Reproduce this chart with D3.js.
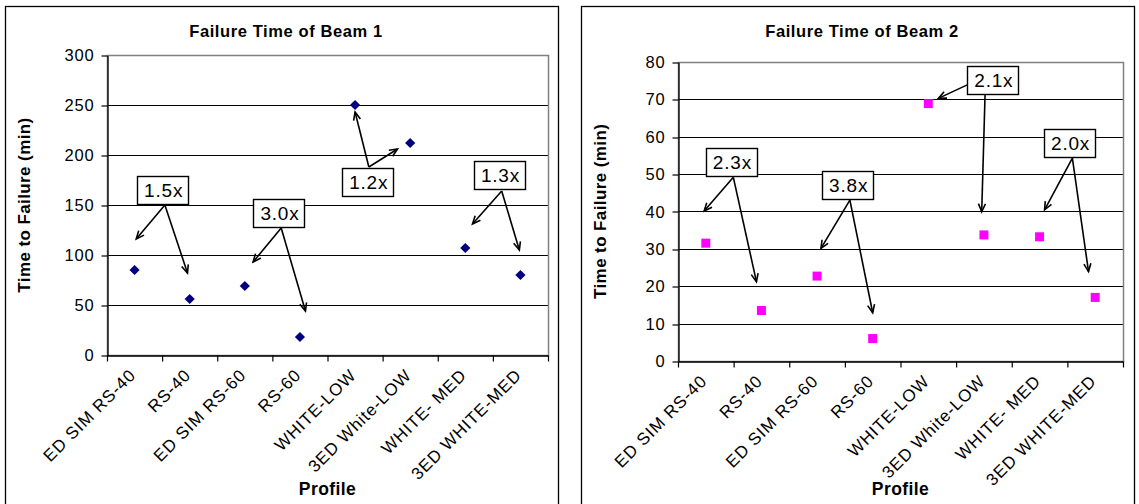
<!DOCTYPE html>
<html>
<head>
<meta charset="utf-8">
<script src="https://cdn.jsdelivr.net/npm/d3@7"></script>
<style>
  html, body { margin: 0; padding: 0; background: #fff; }
  svg { display: block; font-family: Arial, "Liberation Sans", sans-serif; }
</style>
</head>
<body>
<svg id="chart" width="1139" height="504"></svg>
<script>
// Profiles tested (same order in both beams)
const categories = ["ED SIM RS-40", "RS-40", "ED SIM RS-60", "RS-60",
                    "WHITE-LOW", "3ED White-LOW", "WHITE- MED", "3ED WHITE-MED"];

// Time to failure, minutes
const beam1Minutes = [85, 56, 69, 18, 250, 212, 107, 80];
const beam2Minutes = [31.5, 13.5, 22.7, 6, 68.8, 33.7, 33.2, 17];

// Value-axis ticks
const beam1Ticks = [0, 50, 100, 150, 200, 250, 300];
const beam2Ticks = [0, 10, 20, 30, 40, 50, 60, 70, 80];

// Ratio callouts: label, box centre and arrows, in [category position, minutes]
const beam1Labels = ["1.5x", "3.0x", "1.2x", "1.3x"];
const beam1Boxes = [[1.01, 165], [3.12, 142], [4.73, 173], [7.12, 180]];
const beam1Arrows = [
  [[[1.05, 150], [0.53, 116]], [[1.05, 150], [1.46, 82]]],
  [[[3.16, 127], [2.65, 93]], [[3.16, 127], [3.6, 44]]],
  [[[4.75, 188], [4.5, 243]], [[4.75, 188], [5.27, 206]]],
  [[[7.16, 164], [6.63, 131]], [[7.16, 164], [7.48, 105]]]
];
const beam2Labels = ["2.3x", "3.8x", "2.1x", "2.0x"];
const beam2Boxes = [[0.96, 53.2], [3.05, 47], [5.66, 75.1], [7.04, 58.4]];
const beam2Arrows = [
  [[[0.995, 49.1], [0.47, 40.1]], [[0.995, 49.1], [1.41, 21.2]]],
  [[[3.09, 43], [2.57, 30.1]], [[3.09, 43], [3.5, 12.9]]],
  [[[5.2, 73.8], [4.68, 70.2]], [[5.52, 71.1], [5.46, 39.9]]],
  [[[7.09, 54.2], [6.59, 40.4]], [[7.09, 54.2], [7.38, 23.9]]]
];

const svg = d3.select("#chart");

// open arrowhead used by the callout leaders
svg.append("defs").append("marker")
  .attr("id", "arrowhead")
  .attr("markerUnits", "userSpaceOnUse")
  .attr("viewBox", "-10 -5 12 10")
  .attr("refX", 0).attr("refY", 0)
  .attr("markerWidth", 12).attr("markerHeight", 10)
  .attr("orient", "auto")
  .append("path")
  .attr("d", "M-8,-3.5 L0,0 L-8,3.5")
  .attr("fill", "none")
  .attr("stroke", "#000")
  .attr("stroke-width", 1.6);

function drawPanel(cfg) {
  const g = svg.append("g");

  // chart frame
  g.append("rect")
    .attr("x", cfg.frame[0] + 0.5).attr("y", cfg.frame[1] + 0.5)
    .attr("width", cfg.frame[2] - cfg.frame[0]).attr("height", 520)
    .attr("fill", "#fff").attr("stroke", "#000").attr("stroke-width", 1.3);

  const x = d3.scaleLinear().domain([0, categories.length]).range([cfg.left, cfg.right]);
  const y = d3.scaleLinear().domain([0, d3.max(cfg.ticks)]).range([cfg.bottom, cfg.top]);

  // gridlines
  g.append("g").selectAll("line")
    .data(cfg.ticks.slice(1, -1))
    .join("line")
    .attr("x1", cfg.left).attr("x2", cfg.right)
    .attr("y1", d => Math.round(y(d)) + 0.5).attr("y2", d => Math.round(y(d)) + 0.5)
    .attr("stroke", "#000").attr("stroke-width", 1);

  // plot-area border
  g.append("rect")
    .attr("x", cfg.left + 0.5).attr("y", Math.round(cfg.top) + 0.5)
    .attr("width", cfg.right - cfg.left).attr("height", Math.round(cfg.bottom) - Math.round(cfg.top))
    .attr("fill", "none").attr("stroke", "#808080").attr("stroke-width", 1.5);

  // value axis
  const yAxis = g.append("g")
    .attr("transform", `translate(${cfg.left + 0.5},0.5)`)
    .call(d3.axisLeft(y).tickValues(cfg.ticks).tickSize(6).tickSizeOuter(0).tickPadding(7));
  yAxis.select(".domain").attr("stroke", "#000").attr("stroke-width", 1.3);
  yAxis.selectAll(".tick line").attr("stroke", "#000").attr("stroke-width", 1.2)
    .attr("transform", d => `translate(0,${Math.round(y(d)) - y(d)})`);
  yAxis.selectAll(".tick text")
    .attr("font-size", 16.5).attr("fill", "#000")
    .attr("font-family", "Arial, 'Liberation Sans', sans-serif")
    .attr("letter-spacing", 0.8);

  // category axis: ticks between categories
  const xAxis = g.append("g")
    .attr("transform", `translate(0,${Math.round(cfg.bottom) + 0.5})`)
    .call(d3.axisBottom(x).tickValues(d3.range(categories.length + 1))
      .tickSize(6).tickSizeOuter(0).tickFormat(""));
  xAxis.select(".domain").attr("stroke", "#000").attr("stroke-width", 1.3);
  xAxis.selectAll(".tick line").attr("stroke", "#000").attr("stroke-width", 1.2);

  // category labels, rotated
  g.append("g").selectAll("text")
    .data(categories)
    .join("text")
    .attr("transform", (d, i) => `translate(${x(i + 0.5) - 2},${cfg.bottom + 17}) rotate(-45)`)
    .attr("text-anchor", "end")
    .attr("dy", "0.35em")
    .attr("font-size", 17)
    .attr("letter-spacing", 0.9)
    .text(d => d);

  // titles
  g.append("text")
    .attr("x", cfg.titleX).attr("y", 37)
    .attr("text-anchor", "middle")
    .attr("font-size", 16.5).attr("font-weight", "bold").attr("letter-spacing", 0.6)
    .text(cfg.title);
  g.append("text")
    .attr("x", (cfg.left + cfg.right) / 2).attr("y", 495)
    .attr("text-anchor", "middle")
    .attr("font-size", 17.5).attr("font-weight", "bold").attr("letter-spacing", 0.4)
    .text("Profile");
  g.append("text")
    .attr("transform", `translate(${cfg.yTitleX},${(cfg.top + cfg.bottom) / 2}) rotate(-90)`)
    .attr("text-anchor", "middle")
    .attr("font-size", 17).attr("font-weight", "bold").attr("letter-spacing", 0.4)
    .text("Time to Failure (min)");

  // data markers (diamond = square turned 45 degrees)
  const sym = d3.symbol().type(d3.symbolSquare).size(cfg.symbolSize);
  g.append("g").selectAll("path")
    .data(cfg.values)
    .join("path")
    .attr("transform", (d, i) => `translate(${x(i + 0.5)},${y(d)}) rotate(${cfg.rotate})`)
    .attr("d", sym)
    .attr("fill", cfg.color);

  // callouts: leader arrows then boxed labels
  const ann = g.append("g");
  cfg.arrows.forEach(pair => pair.forEach(([from, to]) => {
    ann.append("line")
      .attr("x1", x(from[0])).attr("y1", y(from[1]))
      .attr("x2", x(to[0])).attr("y2", y(to[1]))
      .attr("stroke", "#000").attr("stroke-width", 1.6)
      .attr("marker-end", "url(#arrowhead)");
  }));
  cfg.labels.forEach((lab, i) => {
    const cx = x(cfg.boxes[i][0]), cy = y(cfg.boxes[i][1]);
    ann.append("rect")
      .attr("x", Math.round(cx - 25.5) + 0.5).attr("y", Math.round(cy - 14) + 0.5)
      .attr("width", 51).attr("height", 28)
      .attr("fill", "#fff").attr("stroke", "#000").attr("stroke-width", 1.4);
    ann.append("text")
      .attr("x", cx + 1).attr("y", cy + 7)
      .attr("text-anchor", "middle")
      .attr("font-size", 19).attr("letter-spacing", 0.8)
      .text(lab);
  });
}

drawPanel({
  frame: [5, 6, 558], left: 107, right: 548, top: 55, bottom: 355,
  ticks: beam1Ticks, values: beam1Minutes, title: "Failure Time of Beam 1",
  titleX: 286, yTitleX: 30, color: "#000080", rotate: 45, symbolSize: 52,
  labels: beam1Labels, boxes: beam1Boxes, arrows: beam1Arrows
});
drawPanel({
  frame: [581, 6, 1134], left: 678, right: 1123, top: 61.7, bottom: 361,
  ticks: beam2Ticks, values: beam2Minutes, title: "Failure Time of Beam 2",
  titleX: 862, yTitleX: 606, color: "#FF00FF", rotate: 0, symbolSize: 81,
  labels: beam2Labels, boxes: beam2Boxes, arrows: beam2Arrows
});
</script>
</body>
</html>
